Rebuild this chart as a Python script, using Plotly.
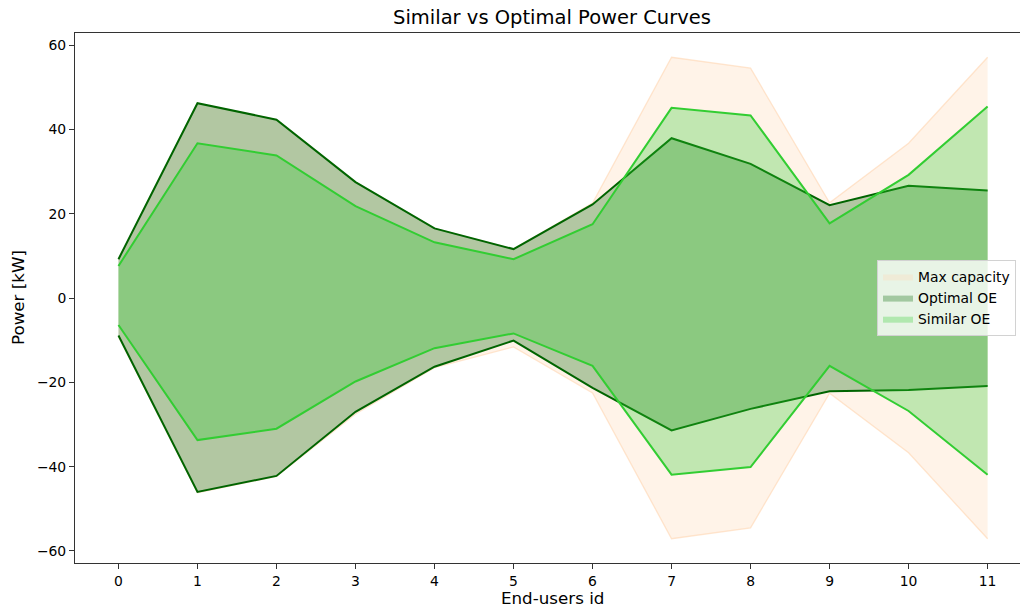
import plotly.graph_objects as go

# ---- data ----
end_users = list(range(12))
max_capacity = [9.2, 46.2, 42.3, 27.5, 16.5, 11.6, 22.5, 57.1, 54.5, 22.6, 36.7, 57.1]
optimal_upper = [9.2, 46.2, 42.3, 27.5, 16.5, 11.6, 22.2, 37.9, 31.8, 22.0, 26.6, 25.5]
optimal_lower = [-8.9, -46.0, -42.2, -27.0, -16.3, -10.1, -21.3, -31.4, -26.3, -22.1, -21.8, -20.9]
similar_upper = [7.6, 36.7, 33.8, 21.8, 13.2, 9.2, 17.5, 45.1, 43.3, 17.7, 29.2, 45.4]
similar_lower = [-6.4, -33.7, -31.0, -19.8, -11.9, -8.4, -16.1, -41.9, -40.1, -16.1, -26.8, -41.9]
y_ticks = [-60, -40, -20, 0, 20, 40, 60]

max_lower = [-v for v in max_capacity]

FONT = "DejaVu Sans"
# plot area in pixels
L, R, T, B = 75, 1020, 33, 563
fig = go.Figure()


def band(upper, lower, name, fill, edge, edge_w):
    fig.add_trace(go.Scatter(x=end_users, y=upper, mode="lines",
                             line=dict(width=0), showlegend=False, hoverinfo="skip"))
    fig.add_trace(go.Scatter(x=end_users, y=lower, mode="lines", fill="tonexty",
                             fillcolor=fill, line=dict(width=0), name=name,
                             showlegend=True, hoverinfo="skip"))
    for ys in (upper, lower):
        fig.add_trace(go.Scatter(x=end_users, y=ys, mode="lines",
                                 line=dict(color=edge, width=edge_w),
                                 showlegend=False, hoverinfo="skip"))


band(max_capacity, max_lower, "Max capacity",
     "rgba(255,218,185,0.32)", "rgba(255,210,170,0.55)", 1.3)
band(optimal_upper, optimal_lower, "Optimal OE",
     "rgba(0,100,0,0.3)", "rgb(0,100,0)", 2)
band(similar_upper, similar_lower, "Similar OE",
     "rgba(50,205,50,0.3)", "rgb(50,205,50)", 2)


def px_x(px):
    return (px - L) / (R - L)


def px_y(py):
    return (B - py) / (B - T)


fig.update_layout(
    width=1020, height=610,
    margin=dict(l=L, r=1020 - R, t=T, b=610 - B),
    paper_bgcolor="white", plot_bgcolor="white",
    font=dict(family=FONT, size=14, color="black"),
    title=dict(text="Similar vs Optimal Power Curves", x=552 / 1020, xanchor="center",
               y=1 - 17 / 610, yanchor="middle", xref="container", yref="container",
               font=dict(family=FONT, size=19.5, color="black")),
    showlegend=True,
    legend=dict(x=px_x(877), y=0.5, xanchor="left", yanchor="middle",
                bgcolor="rgba(255,255,255,0.8)", bordercolor="rgb(210,210,210)",
                borderwidth=1, font=dict(family=FONT, size=13.9, color="black"),
                traceorder="normal", tracegroupgap=0),
    xaxis=dict(range=[-0.55, 11.41], tickmode="array", tickvals=end_users,
               ticktext=[str(v) for v in end_users],
               showgrid=False, zeroline=False, showline=True, mirror=True,
               linecolor="#333", linewidth=1, ticks="outside", ticklen=5,
               tickcolor="#333", tickfont=dict(family=FONT, size=13.9)),
    yaxis=dict(range=[-62.85, 62.85], tickmode="array", tickvals=y_ticks,
               showgrid=False, zeroline=False, showline=True, mirror=False,
               linecolor="#333", linewidth=1, ticks="outside", ticklen=5,
               tickcolor="#333", tickfont=dict(family=FONT, size=13.9)),
    annotations=[
        dict(text="End-users id", x=px_x(552), y=px_y(598), xref="paper",
             yref="paper", xanchor="center", yanchor="middle", showarrow=False,
             font=dict(family=FONT, size=16.7, color="black")),
        dict(text="Power [kW]", x=px_x(18), y=px_y(298), xref="paper",
             yref="paper", xanchor="center", yanchor="middle", showarrow=False,
             textangle=-90, font=dict(family=FONT, size=16.7, color="black")),
    ],
)

fig.write_html("out.html")
